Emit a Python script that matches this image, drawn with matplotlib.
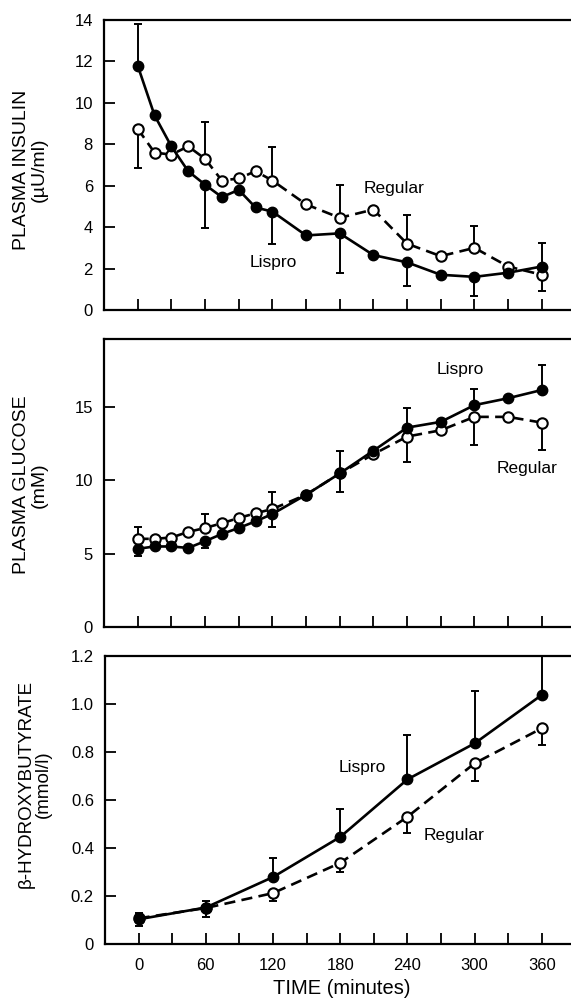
import matplotlib
matplotlib.use("Agg")
import matplotlib.pyplot as plt
import numpy as np

plt.rcParams['font.family'] = ['Liberation Sans', 'DejaVu Sans']

# ---------------- data ----------------
t_fine = [0, 15, 30, 45, 60, 75, 90, 105, 120, 150, 180, 210, 240, 270, 300, 330, 360]
t_err = [0, 60, 120, 180, 240, 300, 360]

ins_lispro = [11.8, 9.4, 7.9, 6.7, 6.05, 5.45, 5.8, 4.95, 4.75, 3.6, 3.7, 2.65, 2.3, 1.7, 1.6, 1.8, 2.1]
ins_regular = [8.75, 7.6, 7.5, 7.9, 7.3, 6.25, 6.35, 6.7, 6.25, 5.1, 4.45, 4.85, 3.2, 2.6, 3.0, 2.1, 1.7]
ins_lispro_up = [2.0, 0, 0, 0, 0, 0, 1.15]
ins_lispro_dn = [0, 2.1, 1.57, 1.9, 1.15, 0.93, 0]
ins_regular_up = [0, 1.8, 1.6, 1.6, 1.4, 1.07, 0]
ins_regular_dn = [1.9, 0, 0, 0, 0, 0, 0.8]

glu_lispro = [5.32, 5.48, 5.48, 5.38, 5.84, 6.33, 6.74, 7.19, 7.69, 9.0, 10.45, 12.0, 13.57, 13.96, 15.1, 15.57, 16.13]
glu_regular = [6.0, 6.0, 6.09, 6.47, 6.74, 7.06, 7.42, 7.74, 8.03, 9.0, 10.45, 11.76, 12.96, 13.39, 14.3, 14.3, 13.91]
glu_lispro_up = [0, 0, 0, 1.55, 1.32, 1.12, 1.67]
glu_lispro_dn = [0.5, 0.48, 0.86, 0, 0, 0, 0]
glu_regular_up = [0.79, 0.95, 1.18, 0, 0, 0, 0]
glu_regular_dn = [0, 0, 0, 1.29, 1.76, 1.9, 1.87]

t_bhb = [0, 60, 120, 180, 240, 300, 360]
bhb_lispro = [0.103, 0.152, 0.279, 0.446, 0.686, 0.836, 1.038]
bhb_regular = [0.107, 0.150, 0.212, 0.338, 0.530, 0.753, 0.899]
bhb_lispro_up = [0.028, 0.029, 0.08, 0.118, 0.186, 0.217, 0.2]
bhb_lispro_dn = [0, 0, 0, 0, 0, 0, 0]
bhb_regular_up = [0, 0, 0, 0, 0, 0, 0]
bhb_regular_dn = [0.03, 0.038, 0.031, 0.039, 0.067, 0.073, 0.07]

ins_ticks = [0, 2, 4, 6, 8, 10, 12, 14]
glu_ticks = [0, 5, 10, 15]
bhb_ticks = [0, 0.2, 0.4, 0.6, 0.8, 1.0, 1.2]
bhb_ticklabels = ['0', '0.2', '0.4', '0.6', '0.8', '1.0', '1.2']
x_ticks = [0, 60, 120, 180, 240, 300, 360]

# ---------------- figure ----------------
W, H = 571, 999
fig = plt.figure(figsize=(W / 100, H / 100), dpi=100)

def ax_rect(left, top, bottom, right=571):
    return [left / W, 1 - bottom / H, (right - left) / W, (bottom - top) / H]

ax1 = fig.add_axes(ax_rect(104, 20, 310))
ax2 = fig.add_axes(ax_rect(104, 339, 627))
ax3 = fig.add_axes(ax_rect(105, 656, 944))

LW = 1.9
MS = 7.5

def val_at(times, vals, tt):
    d = dict(zip(times, vals))
    return [d[x] for x in tt]

def draw(ax, t, lis, reg, te, lu, ld, ru, rd):
    ly = val_at(t, lis, te)
    ry = val_at(t, reg, te)
    ax.errorbar(te, ly, yerr=[ld, lu], fmt='none', ecolor='black',
                elinewidth=1.4, capsize=3.2, capthick=1.4, zorder=2)
    ax.errorbar(te, ry, yerr=[rd, ru], fmt='none', ecolor='black',
                elinewidth=1.4, capsize=3.2, capthick=1.4, zorder=2)
    ax.plot(t, reg, color='black', lw=LW, dashes=(4.2, 2.4), marker='o',
            ms=MS, mfc='white', mec='black', mew=1.5, zorder=3)
    ax.plot(t, lis, color='black', lw=LW, marker='o', ms=MS,
            mfc='black', mec='black', zorder=4)

draw(ax1, t_fine, ins_lispro, ins_regular, t_err,
     ins_lispro_up, ins_lispro_dn, ins_regular_up, ins_regular_dn)
draw(ax2, t_fine, glu_lispro, glu_regular, t_err,
     glu_lispro_up, glu_lispro_dn, glu_regular_up, glu_regular_dn)
draw(ax3, t_bhb, bhb_lispro, bhb_regular, t_bhb,
     bhb_lispro_up, bhb_lispro_dn, bhb_regular_up, bhb_regular_dn)

for ax in (ax1, ax2, ax3):
    ax.set_xlim(-30, 386)
    ax.spines['right'].set_visible(False)
    for s in ('left', 'top', 'bottom'):
        ax.spines[s].set_linewidth(1.6)
    ax.set_xticks(x_ticks)
    ax.set_xticks([30, 90, 150, 210, 270, 330], minor=True)
    ax.tick_params(axis='both', which='both', direction='in', length=8,
                   width=1.3, labelsize=12, pad=8, top=False, right=False)

ax1.set_ylim(0, 14)
ax1.set_yticks(ins_ticks)
ax1.tick_params(axis='x', labelbottom=False)
ax2.set_ylim(0, 19.6)
ax2.set_yticks(glu_ticks)
ax2.tick_params(axis='x', labelbottom=False)
ax3.set_ylim(0, 1.2)
ax3.set_yticks(bhb_ticks)
ax3.set_yticklabels(bhb_ticklabels)
ax3.tick_params(axis='x', pad=10)

# series annotations
fs_ann = 12.5
ax1.text(228, 5.86, 'Regular', fontsize=fs_ann, ha='center', va='center')
ax1.text(121, 2.28, 'Lispro', fontsize=fs_ann, ha='center', va='center')
ax2.text(287, 17.5, 'Lispro', fontsize=fs_ann, ha='center', va='center')
ax2.text(347, 10.8, 'Regular', fontsize=fs_ann, ha='center', va='center')
ax3.text(200, 0.736, 'Lispro', fontsize=fs_ann, ha='center', va='center')
ax3.text(282, 0.452, 'Regular', fontsize=fs_ann, ha='center', va='center')

# y labels
fs_lab = 14
fig.text(30 / W, 1 - 170 / H, 'PLASMA INSULIN\n(\u00b5U/ml)', rotation=90,
         fontsize=fs_lab, ha='center', va='center', linespacing=1.05)
fig.text(30 / W, 1 - 485 / H, 'PLASMA GLUCOSE\n(mM)', rotation=90,
         fontsize=fs_lab, ha='center', va='center', linespacing=1.05)
fig.text(35 / W, 1 - 784 / H, '\u03b2-HYDROXYBUTYRATE\n(mmol/l)', rotation=90,
         fontsize=13.5, ha='center', va='center', linespacing=1.05)

fig.text(342 / W, 1 - 988 / H, 'TIME (minutes)', fontsize=14.5,
         ha='center', va='center')

fig.savefig('out.png', dpi=100)
